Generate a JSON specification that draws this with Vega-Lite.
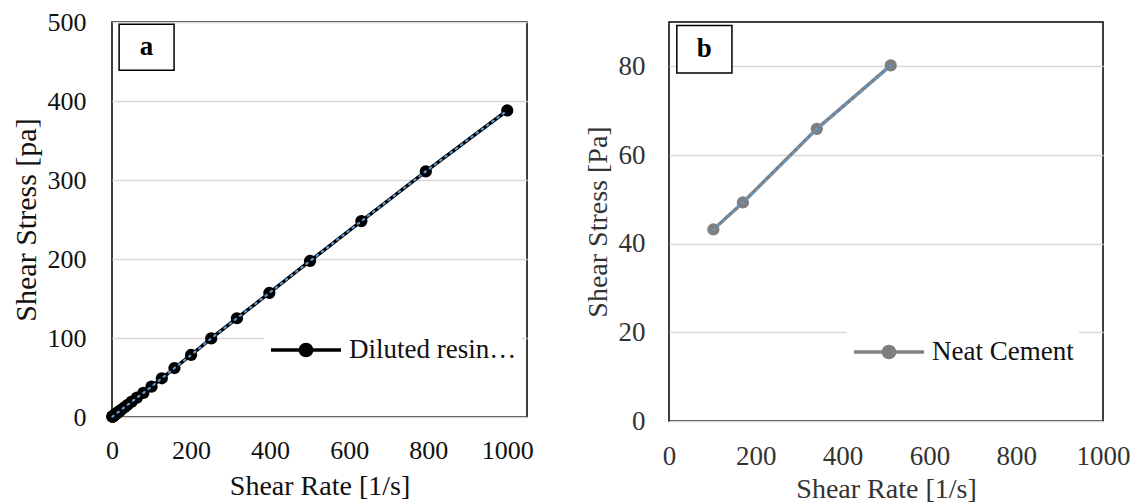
{
  "$schema": "https://vega.github.io/schema/vega-lite/v6.json",
  "background": "white",
  "padding": {"left": 10, "top": 8, "right": 0, "bottom": 0},
  "spacing": 49,
  "resolve": {"scale": {"color": "independent"}, "legend": {"color": "independent"}},
  "config": {
    "font": "Liberation Serif",
    "view": {"stroke": "black", "strokeWidth": 1.5},
    "axis": {
      "domain": false, "ticks": false, "format": "d",
      "labelFont": "Liberation Serif", "titleFont": "Liberation Serif",
      "labelFontSize": 26, "titleFontSize": 28, "titleFontWeight": "normal",
      "labelColor": "#111", "titleColor": "#111",
      "gridColor": "#d9d9d9", "gridWidth": 1.5
    },
    "axisX": {"grid": false, "labelPadding": 20, "titlePadding": 9, "labelFlush": false, "labelOverlap": false},
    "axisY": {"labelPadding": 26, "titlePadding": 6},
    "legend": {
      "labelFont": "Liberation Serif", "labelFontSize": 27, "labelColor": "#111",
      "labelLimit": 400, "labelOffset": 6, "fillColor": "white", "padding": 5
    }
  },
  "hconcat": [
    {
      "width": 415,
      "height": 395,
      "data": {"values": [
        {"series": "Diluted resin…", "rate": 1, "stress": 0.4},
        {"series": "Diluted resin…", "rate": 1.26, "stress": 0.5},
        {"series": "Diluted resin…", "rate": 1.58, "stress": 0.6},
        {"series": "Diluted resin…", "rate": 2, "stress": 0.8},
        {"series": "Diluted resin…", "rate": 2.51, "stress": 1.0},
        {"series": "Diluted resin…", "rate": 3.16, "stress": 1.2},
        {"series": "Diluted resin…", "rate": 3.98, "stress": 1.6},
        {"series": "Diluted resin…", "rate": 5.01, "stress": 2.0},
        {"series": "Diluted resin…", "rate": 6.31, "stress": 2.5},
        {"series": "Diluted resin…", "rate": 7.94, "stress": 3.1},
        {"series": "Diluted resin…", "rate": 10, "stress": 3.9},
        {"series": "Diluted resin…", "rate": 12.6, "stress": 4.9},
        {"series": "Diluted resin…", "rate": 15.8, "stress": 6.2},
        {"series": "Diluted resin…", "rate": 20, "stress": 7.8},
        {"series": "Diluted resin…", "rate": 25.1, "stress": 9.8},
        {"series": "Diluted resin…", "rate": 31.6, "stress": 12.3},
        {"series": "Diluted resin…", "rate": 39.8, "stress": 15.5},
        {"series": "Diluted resin…", "rate": 50.1, "stress": 19.5},
        {"series": "Diluted resin…", "rate": 63.1, "stress": 24.6},
        {"series": "Diluted resin…", "rate": 79.4, "stress": 30.5},
        {"series": "Diluted resin…", "rate": 100, "stress": 38.5},
        {"series": "Diluted resin…", "rate": 126, "stress": 49},
        {"series": "Diluted resin…", "rate": 158, "stress": 62},
        {"series": "Diluted resin…", "rate": 200, "stress": 78.5},
        {"series": "Diluted resin…", "rate": 251, "stress": 99.5},
        {"series": "Diluted resin…", "rate": 316, "stress": 125},
        {"series": "Diluted resin…", "rate": 398, "stress": 157},
        {"series": "Diluted resin…", "rate": 501, "stress": 197.5},
        {"series": "Diluted resin…", "rate": 631, "stress": 248},
        {"series": "Diluted resin…", "rate": 794, "stress": 311},
        {"series": "Diluted resin…", "rate": 1000, "stress": 388}
      ]},
      "layer": [
        {
          "mark": {"type": "line", "strokeWidth": 3.5},
          "encoding": {
            "x": {"field": "rate", "type": "quantitative",
                  "scale": {"domain": [0, 1050], "nice": false},
                  "axis": {"values": [0, 200, 400, 600, 800, 1000], "title": "Shear Rate [1/s]"}},
            "y": {"field": "stress", "type": "quantitative",
                  "scale": {"domain": [0, 500], "nice": false},
                  "axis": {"values": [0, 100, 200, 300, 400, 500], "title": "Shear Stress [pa]", "titleFontSize": 30}},
            "color": {"field": "series", "type": "nominal", "scale": {"range": ["black"]},
              "legend": {
                "orient": "none", "legendX": 152, "legendY": 286, "title": null,
                "symbolType": "M-1,0H1M0.16,0A0.16,0.16,0,1,1,-0.16,0A0.16,0.16,0,1,1,0.16,0Z",
                "symbolSize": 4900,
                "encode": {"symbols": {"update": {"fill": {"value": "black"}, "stroke": {"value": "black"}, "strokeWidth": {"value": 3.5}}}}
              }}
          }
        },
        {
          "mark": {"type": "point", "filled": true, "size": 150, "opacity": 1, "color": "black"},
          "encoding": {
            "x": {"field": "rate", "type": "quantitative"},
            "y": {"field": "stress", "type": "quantitative"}
          }
        },
        {
          "mark": {"type": "line", "color": "#5b9bd5", "strokeWidth": 2.2, "strokeDash": [1.5, 5], "strokeCap": "round"},
          "encoding": {
            "x": {"field": "rate", "type": "quantitative"},
            "y": {"field": "stress", "type": "quantitative"}
          }
        },
        {
          "data": {"values": [{"label": "a"}]},
          "mark": {"type": "rect", "fill": "white", "stroke": "black", "strokeWidth": 1.5},
          "encoding": {"x": {"datum": 18}, "x2": {"datum": 157}, "y": {"datum": 439}, "y2": {"datum": 497}}
        },
        {
          "data": {"values": [{"label": "a"}]},
          "mark": {"type": "text", "fontSize": 27, "fontWeight": "bold", "font": "Liberation Serif", "color": "black", "baseline": "middle", "align": "center"},
          "encoding": {"x": {"datum": 87}, "y": {"datum": 468}, "text": {"field": "label"}}
        }
      ]
    },
    {
      "width": 434,
      "height": 399,
      "data": {"values": [
        {"series": "Neat Cement", "rate": 102.2, "stress": 43.2},
        {"series": "Neat Cement", "rate": 170.3, "stress": 49.3},
        {"series": "Neat Cement", "rate": 340.6, "stress": 65.9},
        {"series": "Neat Cement", "rate": 510.9, "stress": 80.2}
      ]},
      "layer": [
        {
          "mark": {"type": "line", "strokeWidth": 3.5},
          "encoding": {
            "x": {"field": "rate", "type": "quantitative",
                  "scale": {"domain": [0, 1000], "nice": false},
                  "axis": {"values": [0, 200, 400, 600, 800, 1000], "title": "Shear Rate [1/s]", "labelFontSize": 27, "labelPadding": 22, "titlePadding": 6, "labelColor": "#333", "titleColor": "#333"}},
            "y": {"field": "stress", "type": "quantitative",
                  "scale": {"domain": [0, 90], "nice": false},
                  "axis": {"values": [0, 20, 40, 60, 80], "title": "Shear Stress [Pa]", "labelFontSize": 27, "labelPadding": 24, "labelColor": "#333", "titleColor": "#333"}},
            "color": {"field": "series", "type": "nominal", "scale": {"range": ["#7f7f7f"]},
              "legend": {
                "orient": "none", "legendX": 178, "legendY": 288, "title": null,
                "symbolType": "M-1,0H1M0.16,0A0.16,0.16,0,1,1,-0.16,0A0.16,0.16,0,1,1,0.16,0Z",
                "symbolSize": 4900,
                "symbolFillColor": "#7f7f7f", "symbolStrokeColor": "#7f7f7f", "symbolStrokeWidth": 3.5
              }}
          }
        },
        {
          "mark": {"type": "point", "filled": true, "size": 150, "opacity": 1, "color": "#7f7f7f"},
          "encoding": {
            "x": {"field": "rate", "type": "quantitative"},
            "y": {"field": "stress", "type": "quantitative"}
          }
        },
        {
          "mark": {"type": "line", "color": "#5b9bd5", "strokeWidth": 2.2, "strokeDash": [1.5, 5], "strokeCap": "round"},
          "encoding": {
            "x": {"field": "rate", "type": "quantitative"},
            "y": {"field": "stress", "type": "quantitative"}
          }
        },
        {
          "data": {"values": [{"label": "b"}]},
          "mark": {"type": "rect", "fill": "white", "stroke": "black", "strokeWidth": 1.5},
          "encoding": {"x": {"datum": 18}, "x2": {"datum": 145}, "y": {"datum": 78.5}, "y2": {"datum": 89.2}}
        },
        {
          "data": {"values": [{"label": "b"}]},
          "mark": {"type": "text", "fontSize": 27, "fontWeight": "bold", "font": "Liberation Serif", "color": "black", "baseline": "middle", "align": "center"},
          "encoding": {"x": {"datum": 81}, "y": {"datum": 83.8}, "text": {"field": "label"}}
        }
      ]
    }
  ]
}
